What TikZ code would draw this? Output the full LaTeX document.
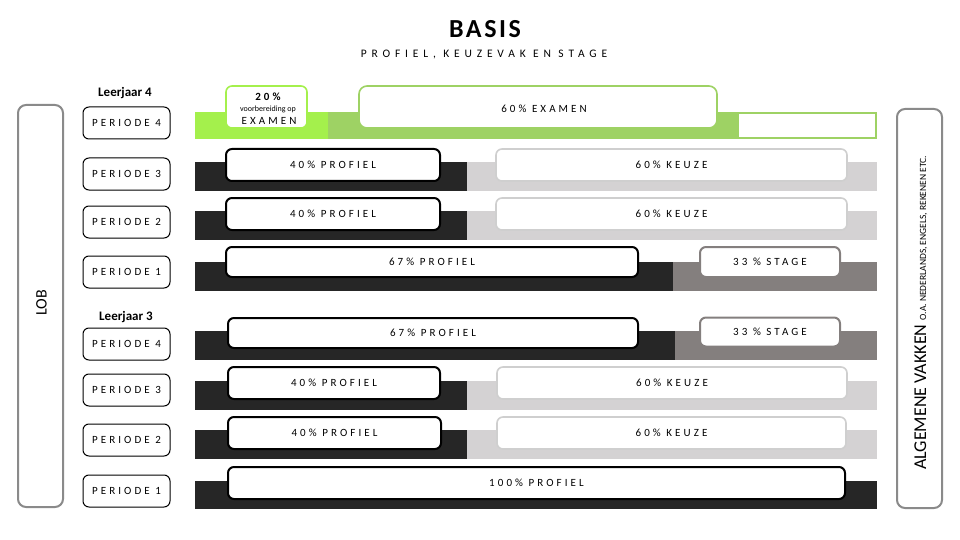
\documentclass[tikz,border=0pt]{standalone}
\usepackage{fontspec}
\setmainfont{Carlito}
\newfontfamily\spaced[LetterSpace=28]{Carlito}
\newfontfamily\wide[LetterSpace=42]{Carlito}
\newfontfamily\titlefont[LetterSpace=10]{Carlito}
\usepackage{xcolor}
\usepackage{tikz}
\usetikzlibrary{positioning}
\definecolor{dark}{HTML}{262626}
\definecolor{light}{HTML}{D4D2D3}
\definecolor{stagegray}{HTML}{847F7E}
\definecolor{lime}{HTML}{A4F04C}
\definecolor{leaf}{HTML}{9ED264}
\definecolor{frame}{HTML}{8A8A8A}
\definecolor{keuzeline}{HTML}{CFCFCF}
\tikzset{
  box/.style={draw, fill=white, rounded corners=6pt, inner sep=0pt, font=\spaced\fontsize{11}{13}\selectfont},
  profiel/.style 2 args={box, draw=black, line width=2pt, minimum width=#1pt, minimum height=#2pt},
  keuze/.style 2 args={box, draw=keuzeline, line width=1.6pt, minimum width=#1pt, minimum height=#2pt},
  stage/.style 2 args={box, draw=stagegray, line width=2pt, minimum width=#1pt, minimum height=#2pt},
  periode/.style={box, line width=1pt, minimum width=87pt, minimum height=32pt},
  side/.style={draw=frame, line width=2pt, rounded corners=8pt, minimum width=45pt, inner sep=0pt},
  lab/.style={inner sep=0pt},
}

\begin{document}
\begin{tikzpicture}[x=1pt, y=-1pt]
  \useasboundingbox (0,0) rectangle (960,540);

  % titles
  \node[lab, font=\titlefont\fontsize{26}{30}\bfseries\selectfont] (titel) at (485,29) {BASIS};
  \node[lab, font=\wide\fontsize{11.5}{13}\selectfont] (sub) at (484,55) {PROFIEL, KEUZEVAK EN STAGE};

  % side frames
  \node[side, minimum height=402pt] (lob) at (40.5,306) {};
  \node[lab, rotate=90, font=\fontsize{16}{18}\selectfont] (lobtxt) at (41.5,303) {LOB};
  \node[side, minimum height=399pt] (alg) at (919.5,308.5) {};
  \node[lab, rotate=90, anchor=base west] (algtxt) at (926,470)
    {\fontsize{18}{20}\selectfont ALGEMENE VAKKEN \fontsize{9.5}{11}\selectfont O.A. NEDERLANDS, ENGELS, REKENEN ETC.};

  % leerjaar 4
  \node[lab, font=\bfseries\fontsize{13}{15}\selectfont] (lj4) at (125,93) {Leerjaar 4};
  \node[periode] (a4) at (126.5,123) {PERIODE 4};
  \node[periode] (a3) at (126.5,174) {PERIODE 3};
  \node[periode] (a2) at (126.5,222) {PERIODE 2};
  \node[periode] (a1) at (126.5,272) {PERIODE 1};

  % leerjaar 3
  \node[lab, font=\bfseries\fontsize{13}{15}\selectfont] (lj3) at (126,317) {Leerjaar 3};
  \node[periode] (b4) at (126.5,344) {PERIODE 4};
  \node[periode] (b3) at (126.5,390) {PERIODE 3};
  \node[periode] (b2) at (126.5,440) {PERIODE 2};
  \node[periode] (b1) at (126.5,491) {PERIODE 1};

  % bars
  \fill[lime] (195,112) rectangle (328,139);
  \fill[leaf] (328,112) rectangle (737,139);
  \draw[leaf, line width=2pt, fill=white] (738,113) rectangle (876,138);
  \fill[dark] (195,162) rectangle (467,191);
  \fill[light] (467,162) rectangle (877,191);
  \fill[dark] (195,211) rectangle (467,240);
  \fill[light] (467,211) rectangle (877,240);
  \fill[dark] (195,262) rectangle (673,291);
  \fill[stagegray] (673,262) rectangle (877,291);
  \fill[dark] (195,331) rectangle (675,360);
  \fill[stagegray] (675,331) rectangle (877,360);
  \fill[dark] (195,381) rectangle (467,410);
  \fill[light] (467,381) rectangle (877,410);
  \fill[dark] (195,430) rectangle (467,459);
  \fill[light] (467,430) rectangle (877,459);
  \fill[dark] (195,481) rectangle (877,509);

  % leerjaar 4 blocks
  \node[box, draw=lime, line width=1.6pt, minimum width=81pt, minimum height=42pt] (vb) at (266.5,107) {};
  \node[lab, font=\spaced\fontsize{11}{13}\bfseries\selectfont] (vb20) at (268,97) {20\%};
  \node[lab, font=\fontsize{8}{9}\selectfont] (vbtxt) at (268,109) {voorbereiding op};
  \node[lab, font=\spaced\fontsize{11}{13}\selectfont] (vbex) at (269,121) {EXAMEN};
  \node[box, draw=leaf, line width=1.6pt, rounded corners=8pt, minimum width=358pt, minimum height=42pt] (ex) at (538,107) {};
  \node[lab, font=\spaced\fontsize{11}{13}\selectfont] (extxt) at (544,109) {60\% EXAMEN};

  \node[profiel={214}{32}] (pa3) at (333,165) {40\% PROFIEL};
  \node[keuze={351}{32}] (ka3) at (671.5,165) {60\% KEUZE};
  \node[profiel={214}{32}] (pa2) at (333,214) {40\% PROFIEL};
  \node[keuze={351}{32}] (ka2) at (671.5,214) {60\% KEUZE};
  \node[profiel={412}{30}] (pa1) at (432,262) {67\% PROFIEL};
  \node[stage={140}{30}] (sa1) at (770,262) {33 \% STAGE};

  % leerjaar 3 blocks
  \node[profiel={410}{30}] (pb4) at (433,333) {67\% PROFIEL};
  \node[stage={140}{29}] (sb4) at (770,332) {33 \% STAGE};
  \node[profiel={212}{32}] (pb3) at (334,383) {40\% PROFIEL};
  \node[keuze={350}{32}] (kb3) at (672,383) {60\% KEUZE};
  \node[profiel={213}{32}] (pb2) at (334.5,433) {40\% PROFIEL};
  \node[keuze={349}{32}] (kb2) at (671.5,433) {60\% KEUZE};
  \node[profiel={617}{32}] (pb1) at (536.5,483) {100\% PROFIEL};
\end{tikzpicture}
\end{document}
